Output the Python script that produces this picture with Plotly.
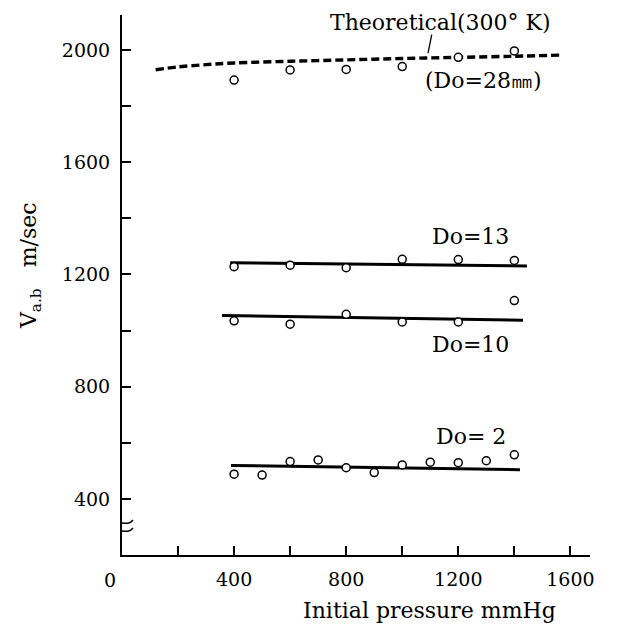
import plotly.graph_objects as go

# Theoretical curve (300 K)
theo_x = [120, 200, 300, 400, 600, 800, 1000, 1200, 1400, 1560]
theo_y = [1930, 1940, 1948, 1954, 1960, 1965, 1970, 1974, 1978, 1982]

# Measured points
d28_x = [400, 600, 800, 1000, 1200, 1400]
d28_y = [1893, 1929, 1931, 1941, 1974, 1997]

d13_x = [400, 600, 800, 1000, 1200, 1400]
d13_y = [1228, 1233, 1224, 1254, 1253, 1250]
d13_fit_x = [386, 1445]
d13_fit_y = [1242, 1230]

d10_x = [400, 600, 800, 1000, 1200, 1400]
d10_y = [1035, 1023, 1058, 1031, 1031, 1107]
d10_fit_x = [357, 1431]
d10_fit_y = [1054, 1037]

d2_x = [400, 500, 600, 700, 800, 900, 1000, 1100, 1200, 1300, 1400]
d2_y = [488, 485, 533, 539, 511, 494, 521, 531, 529, 536, 557]
d2_fit_x = [389, 1420]
d2_fit_y = [519, 504]

x_ticks = [0, 400, 800, 1200, 1600]
y_ticks = [400, 800, 1200, 1600, 2000]

FONT = "DejaVu Serif"

fig = go.Figure()

fig.add_trace(go.Scatter(x=theo_x, y=theo_y, mode="lines",
                         line=dict(color="black", width=3.4, dash="8px,4px"),
                         line_shape="spline", showlegend=False))
for fx, fy in [(d13_fit_x, d13_fit_y), (d10_fit_x, d10_fit_y), (d2_fit_x, d2_fit_y)]:
    fig.add_trace(go.Scatter(x=fx, y=fy, mode="lines",
                             line=dict(color="black", width=3), showlegend=False))
for px_, py_ in [(d28_x, d28_y), (d13_x, d13_y), (d10_x, d10_y), (d2_x, d2_y)]:
    fig.add_trace(go.Scatter(x=px_, y=py_, mode="markers",
                             marker=dict(symbol="circle", size=8, color="white",
                                         line=dict(color="black", width=1.5)),
                             showlegend=False))

axis_common = dict(showgrid=False, zeroline=False, showline=True, linecolor="black",
                   linewidth=2, ticks="inside", tickcolor="black", tickwidth=1.5,
                   ticklen=9, tickfont=dict(family=FONT, size=19, color="black"))

fig.update_xaxes(range=[0, 1670], tickvals=x_ticks[1:], ticktext=[str(v) for v in x_ticks[1:]],
                 minor=dict(tickvals=[200, 600, 1000, 1400], ticks="inside", ticklen=9,
                            tickcolor="black", tickwidth=1.5),
                 ticklabelstandoff=6, **axis_common)
fig.update_yaxes(range=[200, 2125], tickvals=y_ticks, ticktext=[str(v) for v in y_ticks],
                 minor=dict(tickvals=[600, 1000, 1400, 1800], ticks="inside", ticklen=9,
                            tickcolor="black", tickwidth=1.5),
                 ticklabelstandoff=6, **axis_common)

ann_font = dict(family=FONT, size=22, color="black")
fig.add_annotation(x=1135, y=2100, text="Theoretical(300° K)", showarrow=False, font=ann_font)
fig.add_annotation(x=1092, y=1989, ax=4, ay=-20, text="", showarrow=True, arrowhead=0,
                   arrowwidth=1.3, arrowcolor="black")
fig.add_annotation(x=1288, y=1893, text="(Do=28㎜)", showarrow=False, font=ann_font)
fig.add_annotation(x=1245, y=1334, text="Do=13", showarrow=False, font=ann_font)
fig.add_annotation(x=1245, y=949, text="Do=10", showarrow=False, font=ann_font)
fig.add_annotation(x=1245, y=624, text="Do= 2", showarrow=False, font=ann_font)
fig.add_annotation(x=0, y=200, text="0", showarrow=False, font=dict(family=FONT, size=19, color="black"),
                   yanchor="middle", yshift=-25, xshift=-12)
fig.add_annotation(xref="paper", yref="paper", x=0.658, y=0, yshift=-55, yanchor="middle",
                   text="Initial pressure mmHg", showarrow=False, font=ann_font)
fig.add_annotation(xref="paper", yref="paper", x=0, xshift=-92, xanchor="center", y=0.535,
                   text="V<sub>a.b</sub>&nbsp;&nbsp;&nbsp;m/sec", textangle=-90,
                   showarrow=False, font=ann_font)

# axis break mark
fig.add_shape(type="rect", xref="x", yref="y", xsizemode="pixel", ysizemode="pixel",
              xanchor=0, yanchor=300, x0=-3, x1=3, y0=-3, y1=3,
              fillcolor="white", line=dict(width=0), layer="above")
for off in (4, -4):
    fig.add_shape(type="path", xref="x", yref="y", xsizemode="pixel", ysizemode="pixel",
                  xanchor=0, yanchor=300,
                  path=f"M -11,{off-3} C -5,{off+5} 5,{off-5} 11,{off+3}",
                  line=dict(color="black", width=1.5), layer="above")

fig.update_layout(width=609, height=616, margin=dict(l=114, r=27, t=7, b=69),
                  plot_bgcolor="white", paper_bgcolor="white",
                  font=dict(family=FONT, color="black"))

fig.write_html("out.html")
